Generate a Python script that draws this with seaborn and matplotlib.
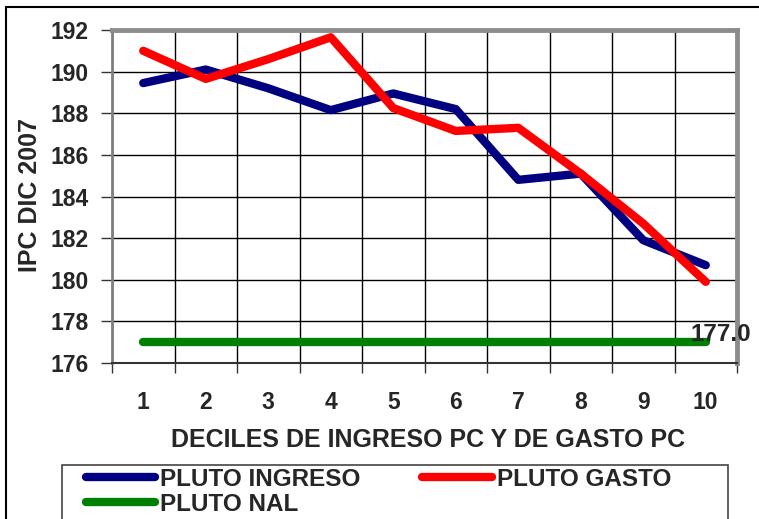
import numpy as np
import pandas as pd
import seaborn as sns
import matplotlib.pyplot as plt
from matplotlib.lines import Line2D
from matplotlib.patches import Rectangle
from matplotlib.ticker import FixedLocator, NullFormatter, FixedFormatter

sns.set_style("white")
plt.rcParams['font.family'] = ['Liberation Sans', 'DejaVu Sans']
plt.rcParams['font.weight'] = 'bold'

deciles = [1, 2, 3, 4, 5, 6, 7, 8, 9, 10]
pluto_ingreso = [189.45, 190.1, 189.2, 188.15, 188.95, 188.2, 184.8, 185.1, 181.9, 180.7]
pluto_gasto = [191.0, 189.65, 190.6, 191.65, 188.25, 187.15, 187.3, 185.1, 182.7, 179.9]
pluto_nal = [177.0] * 10
series = ['PLUTO INGRESO', 'PLUTO GASTO', 'PLUTO NAL']
colors = {'PLUTO INGRESO': '#000080', 'PLUTO GASTO': '#FF0000', 'PLUTO NAL': '#008000'}

df = pd.DataFrame({
    'decil': deciles * 3,
    'ipc': pluto_ingreso + pluto_gasto + pluto_nal,
    'serie': [s for s in series for _ in deciles],
})

W, H = 759, 519
fig = plt.figure(figsize=(W / 100, H / 100), dpi=100)
ax = fig.add_axes([112 / W, 1 - 363 / H, (737 - 112) / W, (363 - 30) / H])

# draw NAL first so the others sit on top, like the original
for s in ['PLUTO NAL', 'PLUTO INGRESO', 'PLUTO GASTO']:
    sns.lineplot(data=df[df['serie'] == s], x='decil', y='ipc', color=colors[s],
                 linewidth=6, solid_capstyle='round', solid_joinstyle='round',
                 ax=ax, legend=False, zorder=3)

ax.set_xlim(0.5, 10.5)
ax.set_ylim(176, 192)
ax.set_yticks(np.arange(176, 193, 2))

# grid between categories, labels at the category centres
ax.xaxis.set_major_locator(FixedLocator(np.arange(0.5, 10.6, 1)))
ax.xaxis.set_major_formatter(NullFormatter())
ax.xaxis.set_minor_locator(FixedLocator(deciles))
ax.xaxis.set_minor_formatter(FixedFormatter([str(d) for d in deciles]))
ax.tick_params(axis='x', which='major', direction='out', length=7, width=1, color='#333333', bottom=True)
ax.tick_params(axis='x', which='minor', length=0, pad=20, labelsize=16.5)
ax.tick_params(axis='y', direction='out', length=8, width=1, color='#333333', left=True, pad=9, labelsize=16.5)
for lab in ax.get_xticklabels(minor=True) + ax.get_yticklabels():
    lab.set_fontweight('bold')

ax.grid(True, which='major', color='black', linewidth=1)
ax.set_axisbelow(True)

for side, c, lw in [('left', '#808080', 2), ('top', '#8c8c8c', 3.5),
                    ('right', '#8c8c8c', 3.5), ('bottom', '#333333', 1.5)]:
    ax.spines[side].set_visible(True)
    ax.spines[side].set_color(c)
    ax.spines[side].set_linewidth(lw)

ax.set_xlabel('DECILES DE INGRESO PC Y DE GASTO PC', fontsize=18, fontweight='bold')
ax.set_ylabel('IPC DIC 2007', fontsize=18, fontweight='bold')
ax.xaxis.set_label_coords(0.505, -0.195)
ax.yaxis.set_label_coords(-0.112, 0.505)

ax.annotate(f'{pluto_nal[-1]:.1f}', xy=(deciles[-1], pluto_nal[-1]), xytext=(11, 1),
            textcoords='offset points', ha='center', va='baseline',
            fontsize=17.5, fontweight='bold', zorder=5, annotation_clip=False)

# outer chart frame and legend box (both cut by the figure edge)
fig.add_artist(Rectangle((6 / W, -0.1), 1.2, 1 - 7 / H + 0.1, transform=fig.transFigure,
                         fill=False, edgecolor='black', linewidth=1.5))
fig.add_artist(Rectangle((62 / W, -0.1), (728 - 62) / W, 1 - 465 / H + 0.1,
                         transform=fig.transFigure, fill=False, edgecolor='#444444', linewidth=1.2))

order = ['PLUTO INGRESO', 'PLUTO NAL', 'PLUTO GASTO']
handles = [Line2D([], [], color=colors[s], linewidth=6, solid_capstyle='round') for s in order]
leg = fig.legend(handles, order, loc='upper left', bbox_to_anchor=(86 / W, 1 - 468 / H),
                 ncol=2, frameon=False, borderpad=0, borderaxespad=0,
                 handlelength=2.85, handletextpad=0.2, columnspacing=2.55,
                 labelspacing=0.08, prop={'size': 17.5, 'weight': 'bold'})

fig.savefig('out.png', dpi=100)
